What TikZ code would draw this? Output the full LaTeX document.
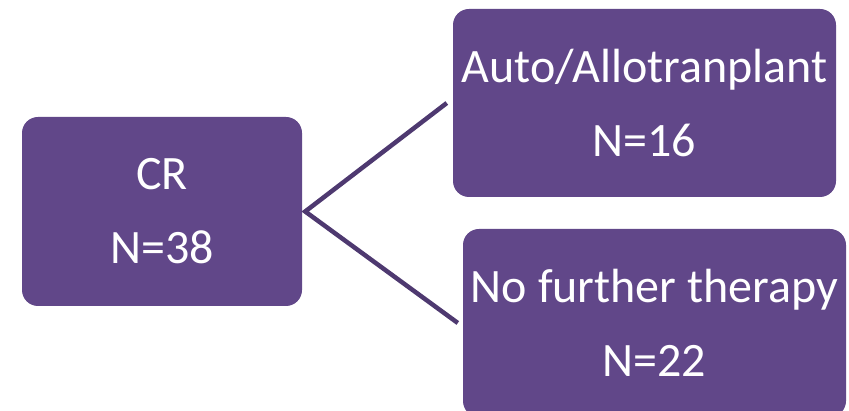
\documentclass[tikz,border=0pt]{standalone}
\usepackage{fontspec}
\setmainfont{Carlito}
\usetikzlibrary{calc}
\definecolor{boxpurple}{RGB}{97,71,137}
\definecolor{linkpurple}{RGB}{78,57,112}

\begin{document}
\begin{tikzpicture}[x=1pt,y=-1pt,
  b/.style={fill=boxpurple,rounded corners=16pt,align=center,text=white,inner sep=0pt,font=\fontsize{48}{74}\selectfont},
  link/.style={draw=linkpurple,line width=4.5pt,miter limit=20}
]
\useasboundingbox (0,0) rectangle (849,411);
\node[b,minimum width=280pt,minimum height=189pt] (cr) at (162,211.5) {CR\\N=38};
\node[b,minimum width=383pt,minimum height=188pt] (tx) at (644.5,103) {Auto/Allotranplant\\N=16};
\node[b,minimum width=383pt,minimum height=188pt] (nf) at (654.5,323) {No further therapy\\N=22};
\coordinate (fork) at ([xshift=3pt]cr.east);
\draw[link] ([xshift=-6pt]tx.west) -- (fork) -- ([xshift=-5pt]nf.west);
\end{tikzpicture}
\end{document}
